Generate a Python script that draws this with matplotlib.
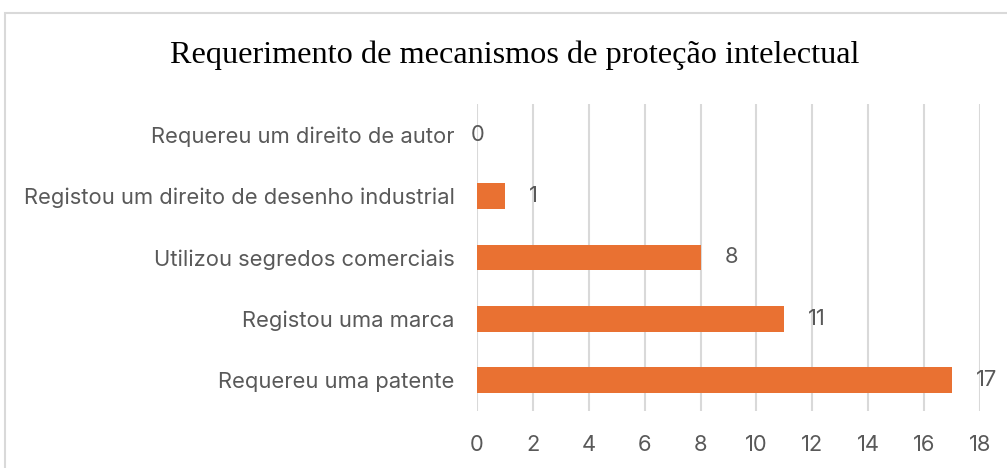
import matplotlib.pyplot as plt
from matplotlib.patches import Rectangle

categories = [
    "Requereu uma patente",
    "Registou uma marca",
    "Utilizou segredos comerciais",
    "Registou um direito de desenho industrial",
    "Requereu um direito de autor",
]
values = [17, 11, 8, 1, 0]
x_ticks = list(range(0, 19, 2))

BAR = "#E97132"
GREY = "#595959"
GRID = "#D9D9D9"
FS = 15.8

fig = plt.figure(figsize=(10.07, 4.68), dpi=100)
ax = fig.add_axes([0.4737, 0.1218, 0.4995, 0.656])

# chart border (the picture is a crop, so right/bottom run off the edge)
fig.patches.append(Rectangle((5 / 1007, -0.1), 1.2, 1 - 13 / 468 + 0.1,
                             transform=fig.transFigure, fill=False,
                             edgecolor=GRID, linewidth=1.5))

y = list(range(len(categories)))
ax.barh(y, values, height=0.42, color=BAR, zorder=3)
ax.set_ylim(-0.5, len(categories) - 0.5)
ax.set_xlim(0, 18)
ax.set_xticks(x_ticks)
ax.set_yticks(y)
ax.set_yticklabels(categories)
ax.tick_params(axis="both", length=0, labelsize=FS, colors=GREY)
ax.tick_params(axis="x", pad=17)
ax.tick_params(axis="y", pad=16)
ax.grid(axis="x", color=GRID, linewidth=1.5, zorder=0)
for s in ax.spines.values():
    s.set_visible(False)

for yi, v in zip(y, values):
    dx = 24 if v > 0 else -6
    ax.annotate(str(v), (v, yi), xytext=(dx * 0.72, 0), textcoords="offset points",
                ha="left", va="center", fontsize=FS, color=GREY,
                family="Inter")

for lbl in ax.get_xticklabels() + ax.get_yticklabels():
    lbl.set_family("Inter")

fig.text(0.5115, 1 - 55 / 468, "Requerimento de mecanismos de proteção intelectual",
         ha="center", va="center", fontsize=23.2, family="Liberation Serif",
         color="black")

fig.savefig("out.png", dpi=100)
